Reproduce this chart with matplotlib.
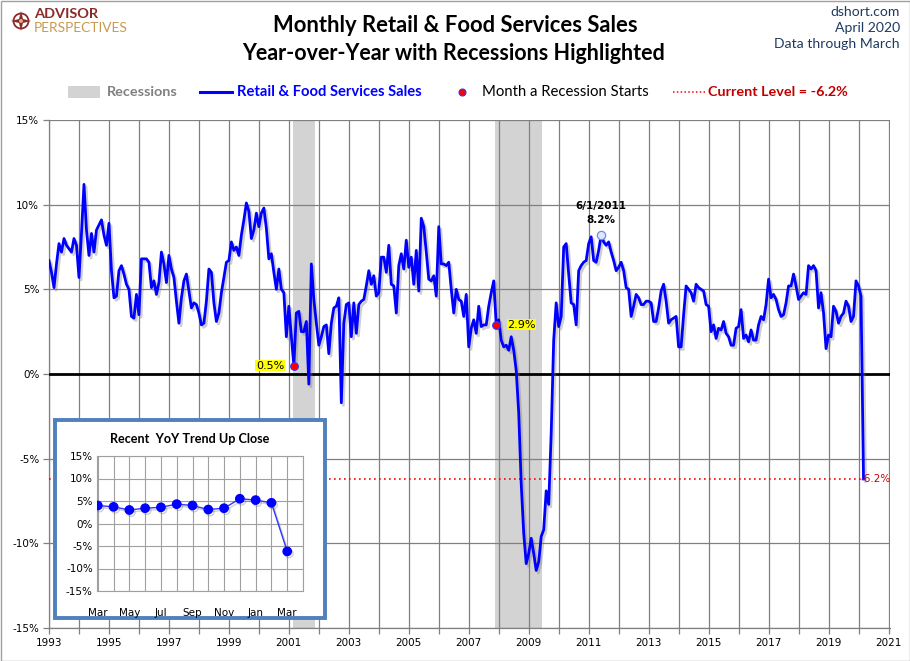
import numpy as np
import matplotlib
matplotlib.use("Agg")
import matplotlib.pyplot as plt
from matplotlib import patheffects as pe
from matplotlib.patches import Rectangle, Circle, Polygon
from matplotlib.lines import Line2D
from matplotlib.transforms import Affine2D

W, H = 910, 661

# ------------------------------------------------------------------ data
yoy_1993 = [6.7, 6.0, 5.1, 6.5, 7.7, 7.2, 8.0, 7.6, 7.4, 7.2, 8.0, 7.6]
yoy_1994 = [5.7, 8.3, 11.2, 8.5, 7.0, 8.3, 7.2, 8.5, 8.8, 9.1, 8.2, 7.6]
yoy_1995 = [8.9, 6.1, 4.5, 4.6, 6.1, 6.4, 5.9, 5.3, 5.0, 3.4, 3.3, 4.7]
yoy_1996 = [3.5, 6.8, 6.8, 6.8, 6.6, 5.1, 5.5, 4.7, 5.4, 7.2, 6.5, 5.4]
yoy_1997 = [7.0, 6.2, 5.7, 4.3, 3.0, 4.5, 5.5, 5.9, 4.9, 3.9, 4.2, 4.1]
yoy_1998 = [3.6, 2.9, 3.0, 4.3, 6.2, 6.0, 4.2, 3.1, 3.6, 4.8, 5.7, 6.6]
yoy_1999 = [6.7, 7.8, 7.3, 7.5, 7.0, 8.2, 9.1, 10.1, 9.6, 8.0, 8.5, 9.5]
yoy_2000 = [8.7, 9.5, 9.8, 8.6, 6.8, 7.1, 6.0, 5.0, 6.2, 5.0, 4.8, 2.2]
yoy_2001 = [4.0, 2.2, 0.5, 3.6, 3.7, 2.5, 2.5, 3.1, -0.6, 6.5, 4.4, 3.0]
yoy_2002 = [1.7, 2.2, 2.8, 2.9, 1.2, 3.0, 3.9, 4.0, 4.5, -1.7, 3.0, 4.1]
yoy_2003 = [4.2, 2.2, 4.2, 2.4, 4.1, 4.3, 4.4, 5.2, 6.1, 5.3, 5.8, 4.6]
yoy_2004 = [4.8, 6.9, 6.9, 6.0, 7.6, 5.3, 5.2, 3.6, 6.4, 7.1, 6.2, 7.9]
yoy_2005 = [6.3, 6.9, 5.3, 7.3, 4.9, 9.2, 8.7, 7.2, 5.6, 5.5, 5.8, 4.6]
yoy_2006 = [8.7, 6.5, 6.5, 6.4, 6.6, 5.0, 3.6, 5.0, 4.4, 4.3, 3.4, 4.7]
yoy_2007 = [1.6, 2.7, 3.2, 2.4, 4.0, 2.8, 2.9, 2.9, 4.0, 4.8, 5.5, 2.9]
yoy_2008 = [3.2, 2.0, 1.6, 1.7, 1.4, 2.2, 1.4, 0.2, -2.3, -6.5, -9.4, -11.2]
yoy_2009 = [-10.6, -9.7, -10.6, -11.6, -11.1, -9.6, -9.2, -6.9, -7.7, -3.5, 2.0, 4.2]
yoy_2010 = [2.8, 3.4, 7.5, 7.7, 5.9, 4.2, 4.1, 2.9, 6.1, 6.4, 6.6, 6.7]
yoy_2011 = [7.7, 8.1, 6.7, 6.6, 7.3, 8.2, 7.8, 7.6, 7.8, 7.2, 6.7, 6.1]
yoy_2012 = [6.3, 6.6, 6.1, 5.1, 5.0, 3.4, 4.0, 4.7, 4.5, 4.1, 4.1, 4.3]
yoy_2013 = [4.3, 4.2, 3.1, 3.1, 3.9, 4.9, 5.3, 4.3, 3.0, 3.2, 3.3, 3.4]
yoy_2014 = [1.6, 1.6, 3.5, 5.2, 5.0, 4.8, 4.3, 5.3, 5.1, 5.0, 4.9, 4.1]
yoy_2015 = [4.0, 2.5, 2.9, 2.1, 2.7, 2.6, 3.1, 2.4, 2.2, 1.7, 1.7, 2.7]
yoy_2016 = [2.8, 3.8, 2.1, 2.3, 1.9, 2.6, 2.0, 2.0, 2.9, 3.4, 3.2, 4.1]
yoy_2017 = [5.6, 4.5, 4.7, 4.4, 3.8, 3.4, 3.5, 4.2, 5.2, 5.2, 5.9, 5.2]
yoy_2018 = [4.4, 4.6, 4.8, 4.7, 6.4, 6.2, 6.4, 6.1, 3.9, 4.8, 3.6, 1.5]
yoy_2019 = [2.3, 2.2, 4.0, 3.7, 3.0, 3.4, 3.6, 4.3, 4.0, 3.1, 3.4, 5.5]
yoy_2020 = [5.2, 4.6, -6.2]

series = (yoy_1993 + yoy_1994 + yoy_1995 + yoy_1996 + yoy_1997 + yoy_1998 +
          yoy_1999 + yoy_2000 + yoy_2001 + yoy_2002 + yoy_2003 + yoy_2004 +
          yoy_2005 + yoy_2006 + yoy_2007 + yoy_2008 + yoy_2009 + yoy_2010 +
          yoy_2011 + yoy_2012 + yoy_2013 + yoy_2014 + yoy_2015 + yoy_2016 +
          yoy_2017 + yoy_2018 + yoy_2019 + yoy_2020)
start_year = 1993

recession_periods = [((2001, 3), (2001, 11)), ((2007, 12), (2009, 6))]
peak_month = (2011, 6)
x_years = list(range(1993, 2022))
x_label_years = list(range(1993, 2022, 2))
y_ticks = [-15, -10, -5, 0, 5, 10, 15]
inset_ticks = [-15, -10, -5, 0, 5, 10, 15]
inset_labels = ["Mar", "", "May", "", "Jul", "", "Sep", "", "Nov", "", "Jan", "", "Mar"]
inset_n = 13

# ------------------------------------------------------------------ helpers
def ym(y, m):
    return y + (m - 1) / 12.0

def idx(y, m):
    return (y - start_year) * 12 + (m - 1)

dates = start_year + np.arange(len(series)) / 12.0
vals = np.array(series)
current = vals[-1]

fig = plt.figure(figsize=(W / 100, H / 100), dpi=100)
fig.patch.set_facecolor("white")
PX = Affine2D().scale(1, -1).translate(0, H)  # top-left pixel coords


def fx(x):
    return x / W


def fy(y):
    return 1 - y / H


# ------------------------------------------------------------------ main axes
ax = fig.add_axes([fx(49), fy(628), (890 - 49) / W, (628 - 120) / H])
ax.set_xlim(1993, 2021.05)
ax.set_ylim(-15, 15)

for (s, e) in recession_periods:
    ax.axvspan(ym(*s) - 0.03, ym(*e) + 0.03, color="#D3D3D3", lw=0, zorder=0.3)

ax.set_axisbelow(True)
ax.set_xticks(x_years)
ax.set_xticklabels([str(y) if y in x_label_years else "" for y in x_years])
ax.set_yticks(y_ticks)
ax.set_yticklabels([f"{v}%" for v in y_ticks])
ax.grid(True, color="#808080", lw=0.9)
ax.tick_params(axis="both", length=4, width=0.9, color="#808080",
               labelsize=7.5, pad=3)
for lab in ax.get_xticklabels() + ax.get_yticklabels():
    lab.set_fontfamily("DejaVu Sans")
for sp in ["top", "right"]:
    ax.spines[sp].set_visible(False)
for sp in ["left", "bottom"]:
    ax.spines[sp].set_color("#808080")
    ax.spines[sp].set_linewidth(0.9)

ax.axhline(0, color="black", lw=2.0, zorder=3)
ax.plot([dates[0], dates[-1]], [current, current], color="red", lw=1.2,
        ls=(0, (1, 2)), zorder=3)

shadow = [pe.SimpleLineShadow(offset=(1.5, -1.8), shadow_color="#777777",
                              alpha=0.35), pe.Normal()]
ax.plot(dates, vals, color="#0000FF", lw=2.0, zorder=4,
        solid_joinstyle="round", path_effects=shadow)

# recession-start markers
for k, (s, e) in enumerate(recession_periods):
    i = idx(*s)
    ax.plot(dates[i], vals[i], "o", ms=5.5, mfc="#FF0000", mec="#3333FF",
            mew=0.8, zorder=6)
    off = (-7, 0) if k == 0 else (8, 0)
    ha = "right" if k == 0 else "left"
    ax.annotate(f"{vals[i]:.1f}%", (dates[i], vals[i]), xytext=off,
                textcoords="offset points", ha=ha, va="center", fontsize=8,
                fontfamily="DejaVu Sans", zorder=7,
                bbox=dict(boxstyle="square,pad=0.05", fc="#FFFF00", ec="none"))

# peak marker
pi = idx(*peak_month)
ax.plot(dates[pi], vals[pi], "o", ms=6, mfc="#DDE8FF", mec="#6C8EDC",
        mew=0.9, zorder=6)
ax.annotate(f"{peak_month[1]}/1/{peak_month[0]}\n{vals[pi]:.1f}%",
            (dates[pi], vals[pi]), xytext=(0, 7), textcoords="offset points",
            ha="center", va="bottom", fontsize=7.5, fontweight="bold",
            fontfamily="DejaVu Sans", linespacing=1.6, zorder=7)

# current level label
ax.annotate(f"{current:.1f}%", (dates[-1], current), xytext=(-2.5, 0),
            textcoords="offset points", ha="left", va="center", fontsize=7.5,
            color="#CC0000", fontfamily="DejaVu Sans", zorder=8)

# ------------------------------------------------------------------ header
renderer = fig.canvas.get_renderer()


def fit(t, width_px):
    bb = t.get_window_extent(renderer=renderer)
    if bb.width > 0:
        t.set_fontsize(t.get_fontsize() * width_px / bb.width)
    return t


t1 = fig.text(455, 25, "Monthly Retail & Food Services Sales", transform=PX,
              ha="center", va="center", fontsize=15, fontweight="bold",
              fontfamily="Lato")
fit(t1, 365)
t2 = fig.text(454, 53, "Year-over-Year with Recessions Highlighted",
              transform=PX, ha="center", va="center", fontsize=15,
              fontweight="bold", fontfamily="Lato")
fit(t2, 426)

navy = "#1F3A60"
tr3 = fig.text(900, 44, "Data through March", transform=PX, ha="right",
               va="center", fontsize=10, color=navy, fontfamily="Lato")
fit(tr3, 125)
for y, s in [(12, "dshort.com"), (28, "April 2020")]:
    fig.text(900, y, s, transform=PX, ha="right", va="center",
             fontsize=tr3.get_fontsize(), color=navy, fontfamily="Lato")

# logo
fig.patches.append(Circle((21, 21), 7.5, transform=PX, fill=False,
                          ec="#8B2A2A", lw=1.3))
star = [(21, 11), (23, 19), (31, 21), (23, 23), (21, 31), (19, 23), (11, 21),
        (19, 19)]
fig.patches.append(Polygon(star, closed=True, transform=PX, fc="#8B2A2A",
                           ec="none"))
fig.patches.append(Circle((21, 21), 2, transform=PX, fc="#D8B070", ec="none"))
ta = fig.text(34, 14, "ADVISOR", transform=PX, ha="left", va="center",
              fontsize=10, fontweight="bold", color="#8B2A2A",
              fontfamily="Lato")
fit(ta, 64)
tb = fig.text(34, 28, "PERSPECTIVES", transform=PX, ha="left", va="center",
              fontsize=9, color="#C89A50", fontfamily="Lato")
fit(tb, 94)

# legend
ly = 92
fig.patches.append(Rectangle((68, ly - 6), 32, 12, transform=PX,
                             fc="#D3D3D3", ec="none"))
tl = fig.text(107, ly, "Recessions", transform=PX, ha="left", va="center",
              fontsize=10, fontweight="bold", color="#808080",
              fontfamily="Lato")
fit(tl, 71)
fig.lines.append(Line2D([200, 232], [ly, ly], transform=PX, color="#0000FF",
                        lw=2.2))
tl = fig.text(237, ly, "Retail & Food Services Sales", transform=PX,
              ha="left", va="center", fontsize=10, fontweight="bold",
              color="#0000FF", fontfamily="Lato")
fit(tl, 185)
fig.lines.append(Line2D([462], [ly], transform=PX, marker="o", ms=5,
                        mfc="#FF0000", mec="#3333FF", mew=0.8, ls="none"))
tl = fig.text(482, ly, "Month a Recession Starts", transform=PX, ha="left",
              va="center", fontsize=10, color="black", fontfamily="Lato")
fit(tl, 166)
fig.lines.append(Line2D([673, 705], [ly, ly], transform=PX, color="red",
                        lw=1.1, ls=(0, (1, 1.5))))
tl = fig.text(708, ly, f"Current Level = {current:.1f}%", transform=PX,
              ha="left", va="center", fontsize=10, fontweight="bold",
              color="#C00000", fontfamily="Lato")
fit(tl, 140)

# ------------------------------------------------------------------ inset
box = Rectangle((55, 420), 270, 198, transform=PX, fc="white",
                ec="#4F81BD", lw=2.8, zorder=2)
fig.patches.append(box)
ti = fig.text(190, 439, "Recent  YoY Trend Up Close", transform=PX,
              ha="center", va="center", fontsize=8, fontweight="bold",
              fontfamily="Lato", zorder=3)
fit(ti, 160)

iax = fig.add_axes([fx(97), fy(591), (303 - 97) / W, (591 - 456) / H],
                   zorder=3)
iax.set_facecolor("white")
ivals = vals[-inset_n:]
ix = np.arange(inset_n)
iax.set_xlim(-0.05, inset_n)
iax.set_ylim(-15, 15)
iax.set_xticks(np.arange(inset_n + 1))
iax.set_xticklabels(inset_labels + [""])
iax.set_yticks(inset_ticks)
iax.set_yticklabels([f"{v}%" for v in inset_ticks])
iax.grid(True, color="#A0A0A0", lw=0.8)
iax.set_axisbelow(True)
iax.tick_params(axis="both", length=0, labelsize=7.5, pad=3)
iax.tick_params(axis="x", pad=12)
for lab in iax.get_xticklabels() + iax.get_yticklabels():
    lab.set_fontfamily("DejaVu Sans")
for sp in iax.spines.values():
    sp.set_color("#A0A0A0")
    sp.set_linewidth(0.8)
ishadow = [pe.SimpleLineShadow(offset=(1.2, -1.5), shadow_color="#777777",
                               alpha=0.35), pe.Normal()]
iax.plot(ix, ivals, color="#3333FF", lw=1.0, marker="o", ms=6,
         mfc="#0000FF", mec="#0000FF", path_effects=ishadow, zorder=4)

# frame around whole image
fig.patches.append(Rectangle((0.5, 0.5), W - 1, H - 1, transform=PX,
                             fill=False, ec="#A0A0A0", lw=1.0, zorder=10))

fig.savefig("out.png", dpi=100, facecolor="white")
